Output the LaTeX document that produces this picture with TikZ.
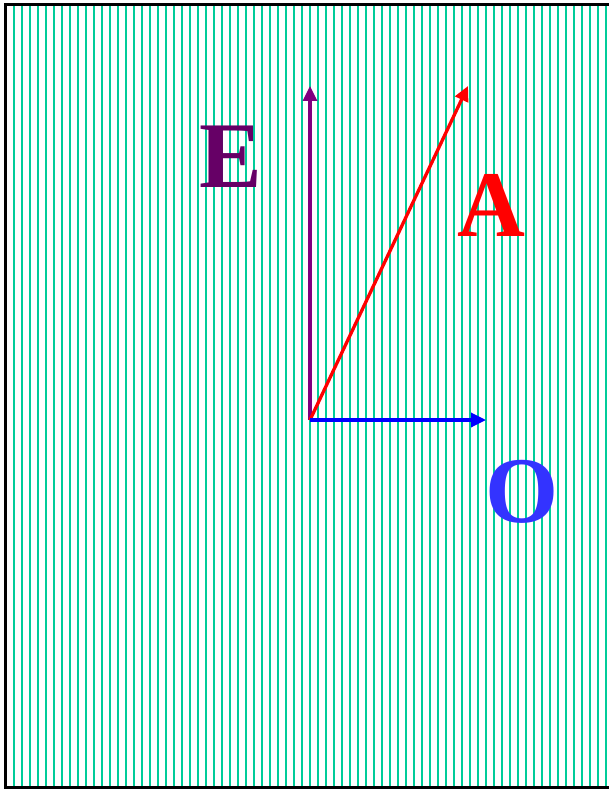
\documentclass[tikz,border=0pt]{standalone}
\usepackage{fontspec}
\setmainfont{Liberation Serif}
\usetikzlibrary{arrows.meta}
\definecolor{stripe}{RGB}{0,204,153}
\definecolor{efield}{RGB}{128,0,128}
\definecolor{elabel}{RGB}{102,0,102}
\definecolor{olabel}{RGB}{51,51,255}

\begin{document}
\begin{tikzpicture}[x=1pt,y=-1pt,>={Triangle[length=15pt,width=14pt]},
  vec/.style={line width=3.3pt,->},
  big/.style={font=\fontsize{94}{94}\selectfont\bfseries,inner sep=0pt}]
\useasboundingbox (0,0) rectangle (609,789);
\fill[white] (-2,-2) rectangle (612,792);
% background stripes
\foreach \x in {6,14,...,606}
  \draw[stripe,line width=2pt] (\x,5)--(\x,787);
\draw[line width=3pt] (612,5)--(5,5)--(5,787)--(612,787);
\coordinate (o) at (310,420);
\coordinate (e) at (310,86);
\coordinate (a) at (468,86);
\coordinate (b) at (486,420);
\draw[vec,efield] (o)--(e);
\draw[vec,red] (o)--(a);
\draw[vec,blue] (o)--(b);
\node[big,elabel] (E) at (231,157) {E};
\node[big,red] (A) at (491,205) {A};
\node[big,olabel] (O) at (522,492) {O};
\end{tikzpicture}
\end{document}
